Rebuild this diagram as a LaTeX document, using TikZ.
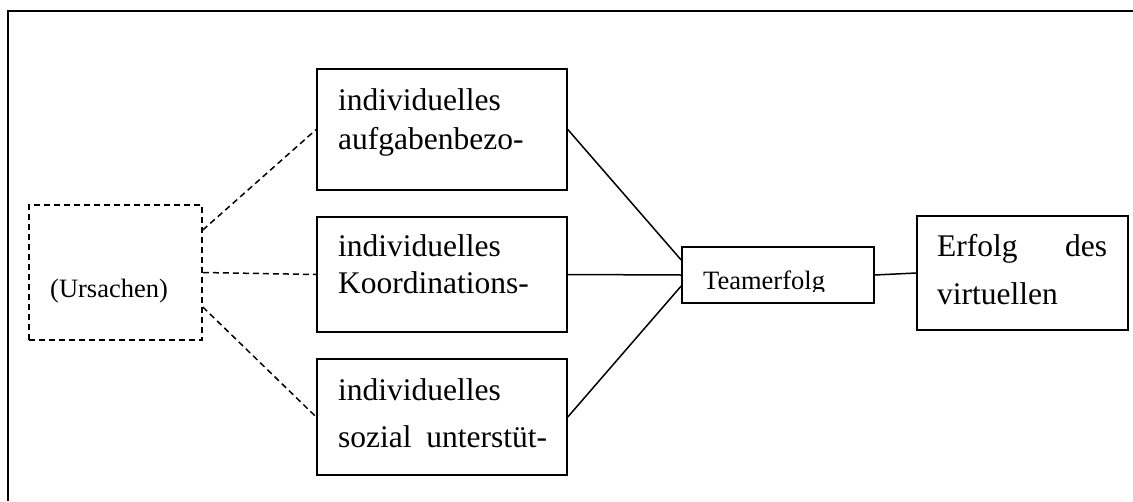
\documentclass[tikz,border=0pt]{standalone}
\usepackage{fontspec}
\setmainfont{Liberation Serif}
\begin{document}
\begin{tikzpicture}[x=1pt,y=-1pt,
  box/.style={draw,line width=1.6pt,inner sep=0pt,rectangle},
  dbox/.style={draw,line width=1.6pt,inner sep=0pt,rectangle,dash pattern=on 6pt off 4pt},
  dline/.style={line width=1.5pt,dash pattern=on 6pt off 4pt},
  sline/.style={line width=1.5pt},
  big/.style={inner sep=0pt,anchor=base west,font=\fontsize{31.5}{39}\selectfont},
  small/.style={inner sep=0pt,anchor=base west,font=\fontsize{26.5}{32}\selectfont}]
\useasboundingbox (0,0) rectangle (1133,501);
% outer frame (only top and left edges visible)
\coordinate (fa) at (8,501);
\coordinate (fb) at (8,11);
\coordinate (fc) at (1133,11);
\draw[line width=2.4pt] (fa) -- (fb) -- (fc);
% boxes
\node[dbox,minimum width=173pt,minimum height=135pt] (urs) at (115.5,272.5) {};
\node[box,minimum width=250pt,minimum height=121pt] (b1) at (442,129.5) {};
\node[box,minimum width=250pt,minimum height=115pt] (b2) at (442,274.5) {};
\node[box,minimum width=250pt,minimum height=116pt] (b3) at (442,417) {};
\node[box,minimum width=192pt,minimum height=56pt] (tf) at (778,275) {};
\node[box,minimum width=211pt,minimum height=114pt] (er) at (1022.5,273) {};
% texts
\node[small] (tu) at (50,297) {(Ursachen)};
\node[big] (t1a) at (338,110) {individuelles};
\node[big] (t1b) at (338,149) {aufgabenbezo-};
\node[big] (t2a) at (338,256) {individuelles};
\node[big] (t2b) at (338,293) {Koordinations-};
\node[big] (t3a) at (338,400) {individuelles};
\node[big] (t3b) at (338,447) {\makebox[209pt][s]{sozial unterstüt-}};
\begin{scope}
\clip (690,240) rectangle (860,291);
\node[small] (tt) at (703,289) {Teamerfolg};
\end{scope}
\node[big] (tea) at (937,256) {\makebox[170pt][s]{Erfolg des}};
\node[big] (teb) at (937,304) {virtuellen};
% dashed connectors
\draw[dline] ([yshift=42.5pt]urs.east) -- (b1.west);
\draw[dline] (urs.east) -- (b2.west);
\draw[dline] ([yshift=-34.5pt]urs.east) -- (b3.west);
% solid connectors
\draw[sline] (b1.east) -- ([yshift=15pt]tf.west);
\draw[sline] (b2.east) -- (tf.west);
\draw[sline] (b3.east) -- ([yshift=-11pt]tf.west);
\draw[sline] (tf.east) -- (er.west);
\end{tikzpicture}
\end{document}
